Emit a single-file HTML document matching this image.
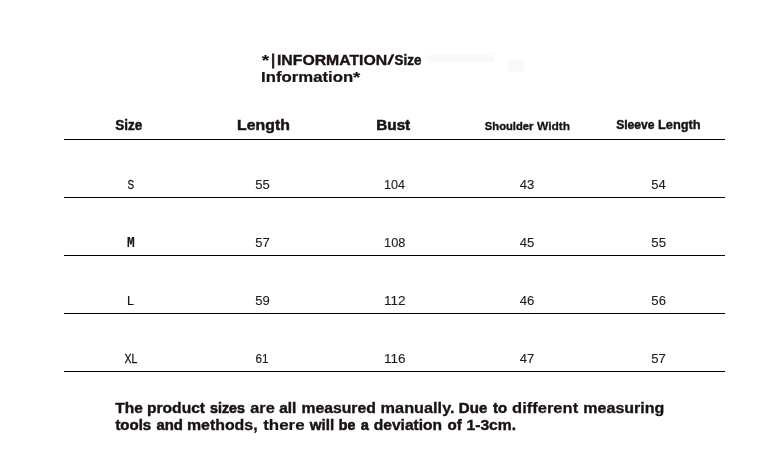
<!DOCTYPE html>
<html><head><meta charset="utf-8">
<style>
html,body{margin:0;padding:0;background:#fff;}
body{width:783px;height:459px;position:relative;overflow:hidden;font-family:"Liberation Sans",sans-serif;}
.t{position:absolute;white-space:nowrap;line-height:1;transform-origin:0 0;}
#w{position:absolute;left:0;top:0;width:783px;height:459px;will-change:transform;}
.m{font-family:"Liberation Mono",monospace;}
.ln{position:absolute;left:64px;width:661px;height:1px;background:#000;}
.sm{position:absolute;background:#000;opacity:.028;filter:blur(1.5px);}
</style></head><body><div id="w">
<div class="ln" style="top:139px"></div>
<div class="ln" style="top:197px"></div>
<div class="ln" style="top:255px"></div>
<div class="ln" style="top:313px"></div>
<div class="ln" style="top:371px"></div>
<div class="t b" style="left:0;top:0;font-size:14.5px;font-weight:bold;color:#1a1218;-webkit-text-stroke:0.15px #1a1218;transform:translate(261.63px,53.00px) scale(1.3106,1.000)">*</div>
<div class="t b" style="left:0;top:0;font-size:14.5px;font-weight:bold;color:#1a1218;-webkit-text-stroke:1.00px #1a1218;transform:translate(271.41px,53.00px) scale(0.7945,1.000)">|</div>
<div class="t b" style="left:0;top:0;font-size:14.5px;font-weight:bold;color:#1a1218;-webkit-text-stroke:0.36px #1a1218;transform:translate(276.94px,53.00px) scale(1.0894,1.000)">INFORMATION</div>
<div class="t b" style="left:0;top:0;font-size:14px;font-weight:bold;color:#1a1218;-webkit-text-stroke:0.41px #1a1218;transform:translate(394.50px,52.40px) scale(0.9588,1.050)">Size</div>
<div class="t b" style="left:0;top:0;font-size:14.5px;font-weight:bold;color:#1a1218;-webkit-text-stroke:0.22px #1a1218;transform:translate(261.06px,70.00px) scale(1.1543,1.000)">Information</div>
<div class="t b" style="left:0;top:0;font-size:14.5px;font-weight:bold;color:#1a1218;-webkit-text-stroke:0.15px #1a1218;transform:translate(353.06px,70.00px) scale(1.2816,1.000)">*</div>
<div class="t b" style="left:0;top:0;font-size:14px;font-weight:bold;color:#1a1218;-webkit-text-stroke:0.46px #1a1218;transform:translate(115.29px,116.92px) scale(0.9671,1.090)">Size</div>
<div class="t b" style="left:0;top:0;font-size:15px;font-weight:bold;color:#1a1218;-webkit-text-stroke:0.46px #1a1218;transform:translate(237.10px,117.00px) scale(1.0544,1.000)">Length</div>
<div class="t b" style="left:0;top:0;font-size:15px;font-weight:bold;color:#1a1218;-webkit-text-stroke:0.56px #1a1218;transform:translate(376.33px,117.00px) scale(1.0156,1.000)">Bust</div>
<div class="t b" style="left:0;top:0;font-size:11px;font-weight:bold;color:#1a1218;-webkit-text-stroke:0.40px #1a1218;transform:translate(484.84px,121.00px) scale(1.0178,1.000)">Shoulder</div>
<div class="t b" style="left:0;top:0;font-size:11px;font-weight:bold;color:#1a1218;-webkit-text-stroke:0.27px #1a1218;transform:translate(537.00px,121.00px) scale(1.0884,1.000)">Width</div>
<div class="t b" style="left:0;top:0;font-size:12px;font-weight:bold;color:#1a1218;-webkit-text-stroke:0.47px #1a1218;transform:translate(616.14px,118.60px) scale(1.0061,1.040)">Sleeve</div>
<div class="t b" style="left:0;top:0;font-size:12px;font-weight:bold;color:#1a1218;-webkit-text-stroke:0.34px #1a1218;transform:translate(657.94px,118.60px) scale(1.0690,1.040)">Length</div>
<div class="t b" style="left:0;top:0;font-size:14.5px;font-weight:bold;color:#1a1218;-webkit-text-stroke:0.41px #1a1218;transform:translate(115.34px,401.00px) scale(1.0654,1.000)">The</div>
<div class="t b" style="left:0;top:0;font-size:14.5px;font-weight:bold;color:#1a1218;-webkit-text-stroke:0.39px #1a1218;transform:translate(146.96px,401.00px) scale(1.0761,1.000)">product</div>
<div class="t b" style="left:0;top:0;font-size:14.5px;font-weight:bold;color:#1a1218;-webkit-text-stroke:0.63px #1a1218;transform:translate(210.03px,401.00px) scale(0.9813,1.000)">sizes</div>
<div class="t b" style="left:0;top:0;font-size:14.5px;font-weight:bold;color:#1a1218;-webkit-text-stroke:0.28px #1a1218;transform:translate(250.19px,401.00px) scale(1.1263,1.000)">are</div>
<div class="t b" style="left:0;top:0;font-size:14.5px;font-weight:bold;color:#1a1218;-webkit-text-stroke:0.44px #1a1218;transform:translate(279.13px,401.00px) scale(1.0564,1.000)">all</div>
<div class="t b" style="left:0;top:0;font-size:14.5px;font-weight:bold;color:#1a1218;-webkit-text-stroke:0.37px #1a1218;transform:translate(301.39px,401.00px) scale(1.0854,1.000)">measured</div>
<div class="t b" style="left:0;top:0;font-size:14.5px;font-weight:bold;color:#1a1218;-webkit-text-stroke:0.29px #1a1218;transform:translate(380.62px,401.00px) scale(1.1227,1.000)">manually.</div>
<div class="t b" style="left:0;top:0;font-size:14.5px;font-weight:bold;color:#1a1218;-webkit-text-stroke:0.48px #1a1218;transform:translate(458.82px,401.00px) scale(1.0401,1.000)">Due</div>
<div class="t b" style="left:0;top:0;font-size:14.5px;font-weight:bold;color:#1a1218;-webkit-text-stroke:0.51px #1a1218;transform:translate(492.94px,401.00px) scale(1.0275,1.000)">to</div>
<div class="t b" style="left:0;top:0;font-size:14.5px;font-weight:bold;color:#1a1218;-webkit-text-stroke:0.25px #1a1218;transform:translate(512.09px,401.00px) scale(1.1385,1.000)">different</div>
<div class="t b" style="left:0;top:0;font-size:14.5px;font-weight:bold;color:#1a1218;-webkit-text-stroke:0.32px #1a1218;transform:translate(583.34px,401.00px) scale(1.1046,1.000)">measuring</div>
<div class="t b" style="left:0;top:0;font-size:14.5px;font-weight:bold;color:#1a1218;-webkit-text-stroke:0.49px #1a1218;transform:translate(115.38px,418.00px) scale(1.0340,1.000)">tools</div>
<div class="t b" style="left:0;top:0;font-size:14.5px;font-weight:bold;color:#1a1218;-webkit-text-stroke:0.50px #1a1218;transform:translate(156.44px,418.00px) scale(1.0293,1.000)">and</div>
<div class="t b" style="left:0;top:0;font-size:14.5px;font-weight:bold;color:#1a1218;-webkit-text-stroke:0.34px #1a1218;transform:translate(186.93px,418.00px) scale(1.0961,1.000)">methods,</div>
<div class="t b" style="left:0;top:0;font-size:14.5px;font-weight:bold;color:#1a1218;-webkit-text-stroke:0.19px #1a1218;transform:translate(263.15px,418.00px) scale(1.1679,1.000)">there</div>
<div class="t b" style="left:0;top:0;font-size:14.5px;font-weight:bold;color:#1a1218;-webkit-text-stroke:0.45px #1a1218;transform:translate(309.64px,418.00px) scale(1.0497,1.000)">will</div>
<div class="t b" style="left:0;top:0;font-size:14.5px;font-weight:bold;color:#1a1218;-webkit-text-stroke:0.63px #1a1218;transform:translate(338.72px,418.00px) scale(0.9810,1.000)">be</div>
<div class="t b" style="left:0;top:0;font-size:14.5px;font-weight:bold;color:#1a1218;-webkit-text-stroke:0.56px #1a1218;transform:translate(360.72px,418.00px) scale(1.0076,1.000)">a</div>
<div class="t b" style="left:0;top:0;font-size:14.5px;font-weight:bold;color:#1a1218;-webkit-text-stroke:0.40px #1a1218;transform:translate(373.74px,418.00px) scale(1.0732,1.000)">deviation</div>
<div class="t b" style="left:0;top:0;font-size:14.5px;font-weight:bold;color:#1a1218;-webkit-text-stroke:0.47px #1a1218;transform:translate(447.39px,418.00px) scale(1.0432,1.000)">of</div>
<div class="t b" style="left:0;top:0;font-size:14.5px;font-weight:bold;color:#1a1218;-webkit-text-stroke:0.38px #1a1218;transform:translate(466.45px,418.00px) scale(1.0809,1.000)">1-3cm.</div>
<div class="t" style="left:0;top:0;font-size:10.5px;font-weight:normal;color:#111;-webkit-text-stroke:0.22px #111;transform:translate(127.41px,177.84px) scale(0.9474,1.240)">S</div>
<div class="t" style="left:0;top:0;font-size:13px;font-weight:normal;color:#1c1c1c;-webkit-text-stroke:0.12px #1c1c1c;transform:translate(255.35px,177.56px) scale(1.0061,1.040)">55</div>
<div class="t" style="left:0;top:0;font-size:13px;font-weight:normal;color:#1c1c1c;-webkit-text-stroke:0.12px #1c1c1c;transform:translate(384.07px,177.56px) scale(0.9696,1.040)">104</div>
<div class="t" style="left:0;top:0;font-size:13px;font-weight:normal;color:#1c1c1c;-webkit-text-stroke:0.12px #1c1c1c;transform:translate(519.64px,177.56px) scale(1.0055,1.040)">43</div>
<div class="t" style="left:0;top:0;font-size:13px;font-weight:normal;color:#1c1c1c;-webkit-text-stroke:0.12px #1c1c1c;transform:translate(651.35px,177.56px) scale(0.9982,1.040)">54</div>
<div class="t m" style="left:0;top:0;font-size:13px;font-weight:bold;color:#15151a;-webkit-text-stroke:0.15px #15151a;transform:translate(126.97px,235.80px) scale(0.9856,1.120)">M</div>
<div class="t" style="left:0;top:0;font-size:13px;font-weight:normal;color:#1c1c1c;-webkit-text-stroke:0.12px #1c1c1c;transform:translate(255.35px,235.56px) scale(0.9985,1.040)">57</div>
<div class="t" style="left:0;top:0;font-size:13px;font-weight:normal;color:#1c1c1c;-webkit-text-stroke:0.12px #1c1c1c;transform:translate(384.05px,235.56px) scale(0.9837,1.040)">108</div>
<div class="t" style="left:0;top:0;font-size:13px;font-weight:normal;color:#1c1c1c;-webkit-text-stroke:0.12px #1c1c1c;transform:translate(519.64px,235.56px) scale(1.0045,1.040)">45</div>
<div class="t" style="left:0;top:0;font-size:13px;font-weight:normal;color:#1c1c1c;-webkit-text-stroke:0.12px #1c1c1c;transform:translate(651.35px,235.56px) scale(1.0136,1.040)">55</div>
<div class="t" style="left:0;top:0;font-size:13px;font-weight:normal;color:#111;-webkit-text-stroke:0.15px #111;transform:translate(126.99px,293.56px) scale(0.9732,1.040)">L</div>
<div class="t" style="left:0;top:0;font-size:13px;font-weight:normal;color:#1c1c1c;-webkit-text-stroke:0.12px #1c1c1c;transform:translate(255.35px,293.56px) scale(1.0041,1.040)">59</div>
<div class="t" style="left:0;top:0;font-size:13px;font-weight:normal;color:#1c1c1c;-webkit-text-stroke:0.12px #1c1c1c;transform:translate(383.98px,293.56px) scale(1.0353,1.040)">112</div>
<div class="t" style="left:0;top:0;font-size:13px;font-weight:normal;color:#1c1c1c;-webkit-text-stroke:0.12px #1c1c1c;transform:translate(519.64px,293.56px) scale(1.0071,1.040)">46</div>
<div class="t" style="left:0;top:0;font-size:13px;font-weight:normal;color:#1c1c1c;-webkit-text-stroke:0.12px #1c1c1c;transform:translate(651.35px,293.56px) scale(1.0064,1.040)">56</div>
<div class="t" style="left:0;top:0;font-size:10.5px;font-weight:normal;color:#111;-webkit-text-stroke:0.22px #111;transform:translate(124.60px,351.84px) scale(0.9991,1.240)">XL</div>
<div class="t" style="left:0;top:0;font-size:12px;font-weight:normal;color:#1c1c1c;-webkit-text-stroke:0.15px #1c1c1c;transform:translate(255.62px,351.80px) scale(0.9706,1.120)">61</div>
<div class="t" style="left:0;top:0;font-size:13px;font-weight:normal;color:#1c1c1c;-webkit-text-stroke:0.12px #1c1c1c;transform:translate(383.98px,351.56px) scale(1.0360,1.040)">116</div>
<div class="t" style="left:0;top:0;font-size:13px;font-weight:normal;color:#1c1c1c;-webkit-text-stroke:0.12px #1c1c1c;transform:translate(519.64px,351.56px) scale(1.0065,1.040)">47</div>
<div class="t" style="left:0;top:0;font-size:13px;font-weight:normal;color:#1c1c1c;-webkit-text-stroke:0.12px #1c1c1c;transform:translate(651.35px,351.56px) scale(1.0056,1.040)">57</div>
<div class="sm" style="left:428px;top:55px;width:66px;height:7px"></div><div class="sm" style="left:508px;top:60px;width:16px;height:12px;opacity:.025"></div>
<svg style="position:absolute;left:380px;top:48px" width="30" height="24" viewBox="380 48 30 24"><polygon points="387.0,64.7 389.7,64.7 394.5,54.2 391.8,54.2" fill="#1a1218"/></svg>
</div></body></html>
